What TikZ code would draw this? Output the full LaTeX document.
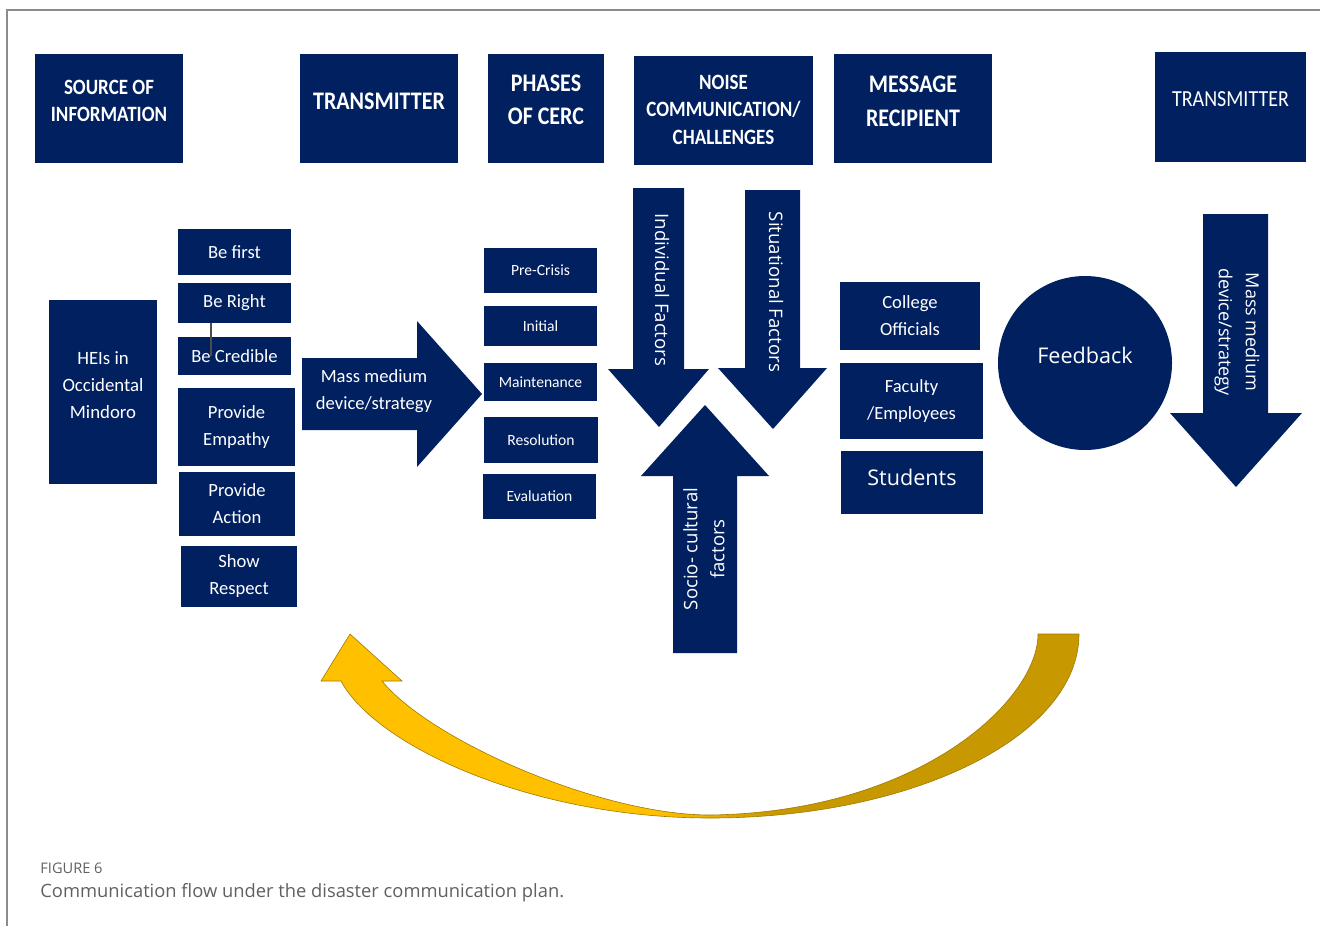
\documentclass[tikz,border=0pt]{standalone}
\usepackage{fontspec}
\setmainfont{Carlito}
\newfontfamily\segoe{Open Sans}
\usepackage{graphicx}
\usetikzlibrary{positioning}
\usepackage{xcolor}

\definecolor{navy}{HTML}{002060}
\definecolor{gold}{HTML}{FFC000}
\definecolor{darkgold}{HTML}{C79800}
\definecolor{rulegray}{HTML}{8C8C8C}
\definecolor{capgray}{HTML}{5F6062}
\pgfdeclarehorizontalshading{goldturn}{100bp}{color(0bp)=(gold); color(47bp)=(gold); color(55bp)=(darkgold); color(100bp)=(darkgold)}
% header lettering is set a bit taller than wide
\newcommand{\tallhead}[1]{\scalebox{1}[1.15]{\begin{tabular}{@{}c@{}}#1\end{tabular}}}

\begin{document}
\begin{tikzpicture}[x=0.5pt, y=-0.5pt,
                box/.style={rectangle, fill=navy, text=white, inner sep=0pt, align=center,
                            font=\fontsize{9.3}{13.5}\selectfont},
                head/.style={rectangle, fill=navy, inner sep=0pt},
                headtxt/.style={text=white, inner sep=0pt, font=\bfseries\fontsize{11}{14.4}\selectfont},
                phase/.style={box, font=\fontsize{7.8}{10}\selectfont},
                boxtxt/.style={text=white, align=center, inner sep=0pt},
                factor/.style={text=white, align=center, font=\segoe\fontsize{9.3}{13.5}\selectfont},
                bigarrow/.style={fill=navy},
                ]
    \useasboundingbox (0,0) rectangle (1320,926);

    % frame
    \draw[rulegray, line width=1pt] (7,926) -- (7,9.5) -- (1320,9.5);

    % Headers
    \node[head, minimum width=74pt, minimum height=54.5pt] (source) at (109,108.5) {};
    \node[headtxt, font=\bfseries\fontsize{9.5}{11.7}\selectfont] (sourcetxt) at ([yshift=3pt]source.center) {\tallhead{SOURCE OF\\INFORMATION}};
    \node[head, minimum width=79pt, minimum height=54.5pt] (trans) at (379,108.5) {};
    \node[headtxt] (transtxt) at ([yshift=2.75pt]trans.center) {\tallhead{TRANSMITTER}};
    \node[head, minimum width=58pt, minimum height=54.5pt] (cerc) at (546,108.5) {};
    \node[headtxt] (cerctxt) at ([yshift=3.5pt]cerc.center) {\tallhead{PHASES\\OF CERC}};
    \node[head, minimum width=89.5pt, minimum height=54.5pt] (noise) at (723.5,110.5) {};
    \node[headtxt, font=\bfseries\fontsize{9.5}{11.9}\selectfont] (noisetxt) at ([yshift=-0.5pt]noise.center) {\tallhead{NOISE\\COMMUNICATION/\\CHALLENGES}};
    \node[head, minimum width=79pt, minimum height=54.5pt] (recip) at (913,108.5) {};
    \node[headtxt, font=\bfseries\fontsize{11}{14.8}\selectfont] (reciptxt) at ([yshift=2.75pt]recip.center) {\tallhead{MESSAGE\\RECIPIENT}};
    \node[head, minimum width=75.5pt, minimum height=55pt] (trans2) at (1230.5,107) {};
    \node[headtxt, font=\fontsize{10}{12}\selectfont] (trans2txt) at ([yshift=3pt]trans2.center) {\tallhead{TRANSMITTER}};

    % Source and the CERC principles
    \node[box, minimum width=54pt, minimum height=92pt] (heis) at (103,392) {};
    \node[boxtxt, font=\fontsize{9.4}{13.5}\selectfont] (heistxt) at ([yshift=3.5pt]heis.center) {HEIs in\\Occidental\\Mindoro};
    \node[box, minimum width=56.5pt, minimum height=23pt] (befirst) at (234.5,252) {Be first};
    \node[box, minimum width=56.5pt, minimum height=20pt] (beright) at (234.5,303) {Be Right};
    \node[box, minimum width=56.5pt, minimum height=19pt] (becred) at (234.5,356) {Be Credible};
    \node[box, minimum width=58.5pt, minimum height=39pt] (empathy) at (236.5,427) {Provide\\Empathy};
    \node[box, minimum width=58pt, minimum height=32pt] (action) at (237,504) {Provide\\Action};
    \node[box, minimum width=58pt, minimum height=30.5pt] (respect) at (239,576.5) {Show\\Respect};
    \draw[black!70, line width=0.6pt] ([xshift=-11.75pt]beright.south) -- ([xshift=-11.75pt]becred.center);

    % Mass medium arrow
    \fill[bigarrow] (302,358) -- (417,358) -- (417,321) -- (482,394) -- (417,467) -- (417,430) -- (302,430) -- cycle;
    \node[box, fill=none] (medium) at (374,391) {Mass medium\\device/strategy};

    % Phases of CERC
    \node[phase, minimum width=56.5pt, minimum height=22.5pt] (precrisis) at (540.5,270.5) {Pre-Crisis};
    \node[phase, minimum width=56.5pt, minimum height=20pt] (initial) at (540.5,326) {Initial};
    \node[phase, minimum width=56.5pt, minimum height=19pt] (maint) at (540.5,382) {Maintenance};
    \node[phase, minimum width=57pt, minimum height=23pt] (resol) at (541,440) {Resolution};
    \node[phase, minimum width=56.5pt, minimum height=22.5pt] (evalu) at (539.5,496.5) {Evaluation};

    % Noise arrows
    \fill[bigarrow] (633,188) -- (684,188) -- (684,369) -- (709,369) -- (659,427) -- (608,369) -- (633,369) -- cycle;
    \node[factor, rotate=-90] (indiv) at (662,290) {Individual Factors};
    \fill[bigarrow] (745,190) -- (800,190) -- (800,368) -- (827,368) -- (773,429) -- (718,368) -- (745,368) -- cycle;
    \node[factor, rotate=-90] (situ) at (776,292) {Situational Factors};
    \fill[bigarrow] (673,653) -- (737,653) -- (737,476) -- (769,476) -- (705,405) -- (641,476) -- (673,476) -- cycle;
    \node[factor, rotate=90] (socio) at (704,549) {Socio- cultural\\factors};

    % Recipients
    \node[box, minimum width=70pt, minimum height=34pt] (officials) at (910,316) {College\\Officials};
    \node[box, minimum width=71.5pt, minimum height=38pt] (faculty) at (911.5,401) {Faculty\\/Employees};
    \node[box, minimum width=71pt, minimum height=31.5pt] (students) at (912,482.5) {};
    \node[boxtxt, font=\segoe\fontsize{10.8}{13.5}\selectfont] (studentstxt) at ([yshift=2.5pt]students.center) {Students};

    % Feedback and back to the transmitter
    \node[circle, fill=navy, minimum size=87pt, inner sep=0pt] (feedback) at (1085,363) {};
    \node[boxtxt, font=\segoe\fontsize{10.8}{13.5}\selectfont] (feedbacktxt) at ([yshift=4pt]feedback.center) {Feedback};
    \fill[bigarrow] (1203,214) -- (1268,214) -- (1268,413) -- (1302,413) -- (1236,487) -- (1170,413) -- (1203,413) -- cycle;
    \node[factor, rotate=-90, font=\segoe\fontsize{9}{13.5}\selectfont] (medium2) at (1237,332) {Mass medium\\device/strategy};

    % curved return arrow
    \path[shading=goldturn, draw=darkgold!80!black, line width=0.3pt]
        (1079,634) .. controls (1079,736) and (914,818) .. (710,818)
                   .. controls (530,818) and (375,745) .. (341,681)
        -- (321,681) -- (350,634) -- (402,681) -- (382,681)
                   .. controls (430,740) and (600,815) .. (710,815)
                   .. controls (920,812) and (1038,700) .. (1038,634) -- cycle;

    % caption
    \node[anchor=west, text=capgray, font=\segoe\fontsize{7.3}{9}\selectfont, inner sep=0pt] (figno) at (40,868) {FIGURE 6};
    \node[anchor=west, text=capgray, font=\segoe\fontsize{9.17}{11}\selectfont, inner sep=0pt] (figcap) at (40,893) {Communication flow under the disaster communication plan.};
\end{tikzpicture}
\end{document}
